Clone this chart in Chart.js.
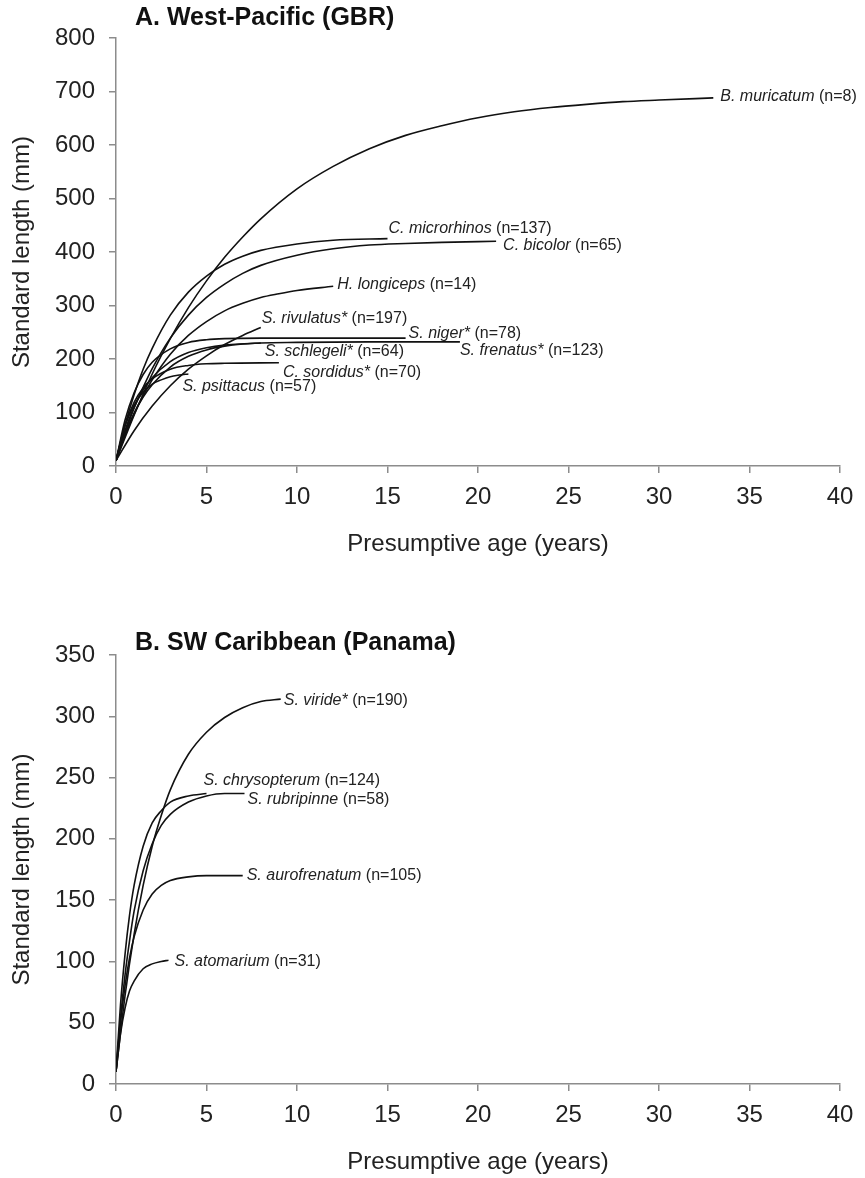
<!DOCTYPE html>
<html lang="en">
<head>
<meta charset="UTF-8">
<title>Growth curves - West-Pacific and SW Caribbean</title>
<script src="https://cdn.jsdelivr.net/npm/chart.js"></script>
<style>
  body { margin: 0; background: #fff; }
  canvas { display: block; }
</style>
</head>
<body>
<canvas id="chartA" width="865" height="590"></canvas>
<canvas id="chartB" width="865" height="588"></canvas>
<script>
// ---- Panel A: West-Pacific (GBR) ----
const muricatumAge = [0, 1, 2, 3, 4, 5, 6, 7, 8, 10, 12, 14, 16, 18, 20, 22, 24, 26, 28, 30, 33];
const muricatumSL  = [10, 95, 172, 238, 296, 346, 390, 428, 462, 518, 560, 593, 618, 636, 651, 662, 670, 676, 681, 684, 688];
const microrhinosAge = [0, 0.5, 1, 1.5, 2, 3, 4, 5, 6, 7, 8, 10, 12, 15];
const microrhinosSL  = [10, 77, 133, 181, 220, 282, 325, 355, 377, 392, 403, 415, 422, 425];
const bicolorAge = [0, 0.5, 1, 1.5, 2, 3, 4, 5, 6, 7, 8, 10, 12, 14, 16, 18, 21];
const bicolorSL  = [10, 62, 108, 147, 182, 239, 282, 315, 340, 360, 375, 394, 406, 413, 416, 418, 420];
const longicepsAge = [0, 0.5, 1, 1.5, 2, 3, 4, 5, 6, 7, 8, 9, 10, 12];
const longicepsSL  = [10, 57, 97, 131, 161, 209, 244, 270, 290, 304, 315, 322, 328, 336];
const rivulatusAge = [0, 1, 2, 3, 4, 5, 6, 7, 8];
const rivulatusSL  = [10, 66, 112, 150, 181, 206, 227, 244, 259];
const nigerAge = [0, 0.5, 1, 1.5, 2, 3, 4, 5, 6, 8, 12, 16];
const nigerSL  = [10, 86, 137, 171, 194, 219, 231, 236, 238, 239, 239, 239];
const schlegeliAge = [0, 0.5, 1, 1.5, 2, 3, 4, 5, 6, 7, 8];
const schlegeliSL  = [10, 60, 99, 129, 152, 185, 205, 217, 224, 228, 230];
const frenatusAge = [0, 0.5, 1, 1.5, 2, 3, 4, 5, 6, 8, 10, 14, 19];
const frenatusSL  = [10, 67, 110, 142, 165, 195, 212, 221, 226, 230, 231, 232, 232];
const sordidusAge = [0, 0.5, 1, 1.5, 2, 3, 4, 5, 6, 9];
const sordidusSL  = [10, 76, 119, 146, 163, 181, 188, 191, 192, 193];
const psittacusAge = [0, 0.5, 1, 1.5, 2, 2.5, 3, 3.5, 4];
const psittacusSL  = [10, 75, 114, 138, 153, 161, 167, 170, 172];

const namesA  = ['B. muricatum', 'C. microrhinos', 'C. bicolor', 'H. longiceps', 'S. rivulatus*',
                 'S. niger*', 'S. schlegeli*', 'S. frenatus*', 'C. sordidus*', 'S. psittacus'];
const countsA = ['(n=8)', '(n=137)', '(n=65)', '(n=14)', '(n=197)', '(n=78)', '(n=64)', '(n=123)', '(n=70)', '(n=57)'];
const agesA = [muricatumAge, microrhinosAge, bicolorAge, longicepsAge, rivulatusAge,
               nigerAge, schlegeliAge, frenatusAge, sordidusAge, psittacusAge];
const lengthsA = [muricatumSL, microrhinosSL, bicolorSL, longicepsSL, rivulatusSL,
                  nigerSL, schlegeliSL, frenatusSL, sordidusSL, psittacusSL];

// ---- Panel B: SW Caribbean (Panama) ----
const virideAge = [0, 0.5, 1, 1.5, 2, 2.5, 3, 4, 5, 6, 7, 8, 9.1];
const virideSL  = [10, 72, 122, 162, 194, 219, 240, 269, 287, 299, 307, 312, 314];
const chrysopterumAge = [0, 0.25, 0.5, 0.75, 1, 1.5, 2, 2.5, 3, 4, 5];
const chrysopterumSL  = [10, 65, 106, 138, 162, 194, 213, 223, 230, 235, 237];
const rubripinneAge = [0, 0.25, 0.5, 0.75, 1, 1.5, 2, 2.5, 3, 4, 5, 6, 7.1];
const rubripinneSL  = [10, 54, 89, 117, 141, 174, 196, 211, 220, 230, 235, 237, 237];
const aurofrenatumAge = [0, 0.25, 0.5, 0.75, 1, 1.5, 2, 2.5, 3, 4, 5, 7];
const aurofrenatumSL  = [10, 50, 80, 103, 120, 142, 155, 162, 166, 169, 170, 170];
const atomariumAge = [0, 0.25, 0.5, 0.75, 1, 1.5, 2, 2.5, 2.9];
const atomariumSL  = [10, 41, 62, 76, 84, 94, 98, 100, 101];

const namesB  = ['S. viride*', 'S. chrysopterum', 'S. rubripinne', 'S. aurofrenatum', 'S. atomarium'];
const countsB = ['(n=190)', '(n=124)', '(n=58)', '(n=105)', '(n=31)'];
const agesB = [virideAge, chrysopterumAge, rubripinneAge, aurofrenatumAge, atomariumAge];
const lengthsB = [virideSL, chrysopterumSL, rubripinneSL, aurofrenatumSL, atomariumSL];

const xTicks = [0, 5, 10, 15, 20, 25, 30, 35, 40];

// label placement relative to the end of each curve (dx, dy in px)
const labelOffsetsA = [[7, -1], [1, -10], [7, 4], [4, -2], [1, -9], [3, -5], [4, 9], [0, 9], [4, 10], [-6, 13]];
const labelOffsetsB = [[3, 1], [-3, -13], [3, 6], [4, 0], [6, 1]];

const FONT = '"Liberation Sans", Arial, Helvetica, sans-serif';
const axisGrey = '#8c8c8c';

const curveLabels = {
    id: 'curveLabels',
    afterDatasetsDraw(chart, args, opts) {
        const ctx = chart.ctx;
        ctx.save();
        ctx.textBaseline = 'middle';
        ctx.fillStyle = '#222';
        chart.data.datasets.forEach((ds, i) => {
            const pts = chart.getDatasetMeta(i).data;
            const last = pts[pts.length - 1];
            let x = last.x + opts.offsets[i][0];
            const y = last.y + opts.offsets[i][1];
            ctx.font = 'italic 16px ' + FONT;
            ctx.fillText(ds.label, x, y);
            x += ctx.measureText(ds.label + ' ').width;
            ctx.font = '16px ' + FONT;
            ctx.fillText(opts.counts[i], x, y);
        });
        // panel heading
        ctx.fillStyle = '#111';
        ctx.font = 'bold 25px ' + FONT;
        ctx.fillText(opts.title, opts.titleX, opts.titleY);
        ctx.restore();
    }
};

function makePanel(id, names, counts, ages, lengths, offsets, yMax, yStep, title, titleY, padTop, padBottom) {
    const datasets = names.map((name, i) => ({
        label: name,
        data: ages[i].map((a, j) => ({ x: a, y: lengths[i][j] })),
        borderColor: '#111',
        borderWidth: 1.6,
        pointRadius: 0,
        fill: false,
        cubicInterpolationMode: 'monotone'
    }));

    return new Chart(document.getElementById(id), {
        type: 'line',
        data: { datasets: datasets },
        plugins: [curveLabels],
        options: {
            responsive: false,
            animation: false,
            devicePixelRatio: 1,
            layout: { padding: { left: 8, right: 25, top: padTop, bottom: padBottom } },
            plugins: {
                legend: { display: false },
                tooltip: { enabled: false },
                curveLabels: { offsets: offsets, counts: counts, title: title, titleX: 135, titleY: titleY }
            },
            scales: {
                x: {
                    type: 'linear',
                    min: 0, max: 40,
                    afterBuildTicks: (s) => { s.ticks = xTicks.map(v => ({ value: v })); },
                    afterFit: (s) => { s.height = 93; },
                    grid: { drawOnChartArea: false, drawTicks: true, tickLength: 7, color: axisGrey, lineWidth: 1.5 },
                    border: { display: true, color: axisGrey, width: 1.5 },
                    ticks: { color: '#222', font: { family: FONT, size: 24 }, padding: 10, maxRotation: 0 },
                    title: { display: true, text: 'Presumptive age (years)', color: '#222',
                             font: { family: FONT, size: 24 }, padding: { top: 0, bottom: 0 } }
                },
                y: {
                    min: 0, max: yMax,
                    afterFit: (s) => { s.width = 108; },
                    grid: { drawOnChartArea: false, drawTicks: true, tickLength: 7, color: axisGrey, lineWidth: 1.5 },
                    border: { display: true, color: axisGrey, width: 1.5 },
                    ticks: { stepSize: yStep, color: '#222', font: { family: FONT, size: 24 }, padding: 14 },
                    title: { display: true, text: 'Standard length (mm)', color: '#222',
                             font: { family: FONT, size: 24 }, padding: { top: 0, bottom: 0 } }
                }
            }
        }
    });
}

makePanel('chartA', namesA, countsA, agesA, lengthsA, labelOffsetsA, 800, 100,
          'A. West-Pacific (GBR)', 18, 38, 31);
makePanel('chartB', namesB, countsB, agesB, lengthsB, labelOffsetsB, 350, 50,
          'B. SW Caribbean (Panama)', 53, 65, 1);
</script>
</body>
</html>
